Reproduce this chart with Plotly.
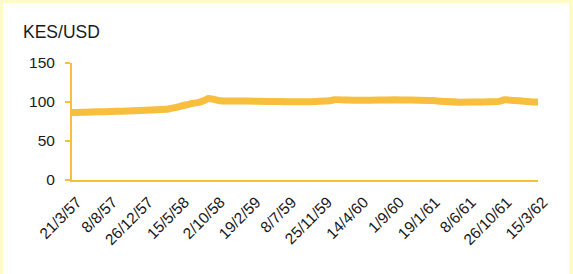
import plotly.graph_objects as go

# Data (KES per USD)
dates = [
    "1957-03-21", "1957-05-10", "1957-07-01", "1957-08-20", "1957-10-01",
    "1957-11-15", "1958-01-01", "1958-02-15", "1958-04-01", "1958-05-01",
    "1958-05-30", "1958-06-20", "1958-07-09", "1958-07-30", "1958-08-17",
    "1958-09-05", "1958-09-25", "1958-10-22", "1958-12-15", "1959-03-20",
    "1959-06-01", "1959-08-24", "1959-11-01", "1959-12-20", "1960-01-09",
    "1960-03-01", "1960-04-16", "1960-07-03", "1960-09-01", "1960-10-29",
    "1961-01-27", "1961-03-20", "1961-05-13", "1961-07-10", "1961-09-07",
    "1961-10-15", "1961-11-05", "1961-12-10", "1962-01-20", "1962-02-20",
    "1962-03-15",
]
values = [
    86.5, 87.0, 87.5, 87.8, 88.3,
    88.8, 89.5, 90.0, 91.0, 93.0,
    95.5, 97.0, 98.5, 99.5, 101.5,
    104.5, 103.5, 101.5, 101.3, 101.0,
    100.5, 100.2, 100.8, 101.5, 103.0,
    102.5, 102.3, 102.5, 102.8, 102.5,
    101.8, 100.5, 99.8, 100.0, 100.3,
    100.8, 102.8, 102.0, 101.0, 100.0,
    100.0,
]

tick_dates = [
    "1957-03-21", "1957-08-08", "1957-12-26", "1958-05-15", "1958-10-02",
    "1959-02-19", "1959-07-08", "1959-11-25", "1960-04-14", "1960-09-01",
    "1961-01-19", "1961-06-08", "1961-10-26", "1962-03-15",
]
tick_labels = [
    "21/3/57", "8/8/57", "26/12/57", "15/5/58", "2/10/58", "19/2/59",
    "8/7/59", "25/11/59", "14/4/60", "1/9/60", "19/1/61", "8/6/61",
    "26/10/61", "15/3/62",
]
y_ticks = [0, 50, 100, 150]

ORANGE = "#F8BE3D"
YELLOW_BG = "#FFFAC8"
FONT = "Liberation Sans, Arial, sans-serif"

W, H = 573, 274
L, R, T, B = 72, 35, 63, 94
pw, ph = W - L - R, H - T - B

fig = go.Figure()
fig.add_trace(go.Scatter(
    x=dates, y=values, mode="lines",
    line=dict(color=ORANGE, width=7, shape="spline", smoothing=0.6),
    hoverinfo="skip", showlegend=False,
))

# white inner panel over pale-yellow page background
fig.add_shape(
    type="rect", xref="paper", yref="paper", layer="below",
    x0=(3 - L) / pw, x1=(569 - L) / pw,
    y0=(T + ph - (H + 20)) / ph, y1=(T + ph - 3) / ph,
    fillcolor="white", line=dict(width=0),
)

fig.update_layout(
    width=W, height=H,
    margin=dict(l=L, r=R, t=T, b=B, pad=0),
    paper_bgcolor=YELLOW_BG,
    plot_bgcolor="white",
    font=dict(family=FONT, size=15, color="#1a1a1a"),
    title=dict(
        text="KES/USD", x=23 / W, y=1 - 32 / H,
        xanchor="left", yanchor="middle", xref="container", yref="container",
        font=dict(family=FONT, size=17.5, color="#1a1a1a"),
    ),
    xaxis=dict(
        type="date",
        range=["1957-03-21", "1962-03-15"],
        tickvals=tick_dates, ticktext=tick_labels,
        tickangle=-45, showgrid=False, zeroline=False,
        showline=True, linecolor=ORANGE, linewidth=2,
        ticks="", ticklabelshift=5, ticklabelstandoff=5,
        tickfont=dict(family=FONT, size=15.5, color="#1a1a1a"),
    ),
    yaxis=dict(
        range=[0, 150], tickvals=y_ticks,
        showgrid=False, zeroline=False,
        showline=True, linecolor=ORANGE, linewidth=2,
        ticks="outside", ticklen=5, tickwidth=2, tickcolor=ORANGE,
        ticklabelstandoff=7,
        tickfont=dict(family=FONT, size=15.5, color="#1a1a1a"),
    ),
)

fig.write_html("out.html")
